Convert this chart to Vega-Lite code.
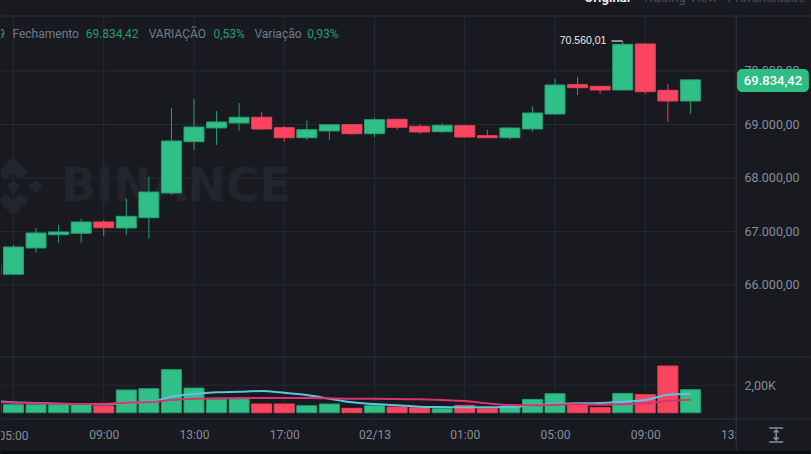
{"$schema":"https://vega.github.io/schema/vega-lite/v6.json","width":811,"height":454,"padding":0,"autosize":{"type":"fit","contains":"padding"},"background":"#181a20","config":{"view":{"stroke":null}},
"datasets":{
"candles":[
{"h":4,"open":66374,"close":66187,"high":66400,"low":66150,"dir":"down","vol":584},
{"h":5,"open":66200,"close":66710,"high":66748,"low":66193,"dir":"up","vol":584},
{"h":6,"open":66692,"close":66972,"high":67066,"low":66611,"dir":"up","vol":584},
{"h":7,"open":66940,"close":66991,"high":67122,"low":66791,"dir":"up","vol":584},
{"h":8,"open":66967,"close":67178,"high":67234,"low":66780,"dir":"up","vol":584},
{"h":9,"open":67178,"close":67071,"high":67215,"low":66916,"dir":"down","vol":487},
{"h":10,"open":67066,"close":67284,"high":67621,"low":66935,"dir":"up","vol":1655},
{"h":11,"open":67258,"close":67738,"high":68024,"low":66866,"dir":"up","vol":1752},
{"h":12,"open":67720,"close":68692,"high":69308,"low":67682,"dir":"up","vol":3139},
{"h":13,"open":68679,"close":68953,"high":69477,"low":68523,"dir":"up","vol":1800},
{"h":14,"open":68935,"close":69047,"high":69252,"low":68617,"dir":"up","vol":973},
{"h":15,"open":69028,"close":69135,"high":69402,"low":68884,"dir":"up","vol":1000},
{"h":16,"open":69135,"close":68916,"high":69228,"low":68907,"dir":"down","vol":633},
{"h":17,"open":68940,"close":68753,"high":68972,"low":68679,"dir":"down","vol":633},
{"h":18,"open":68753,"close":68903,"high":69071,"low":68716,"dir":"up","vol":511},
{"h":19,"open":68879,"close":68996,"high":68998,"low":68716,"dir":"up","vol":633},
{"h":20,"open":68996,"close":68828,"high":69000,"low":68804,"dir":"down","vol":316},
{"h":21,"open":68828,"close":69090,"high":69127,"low":68761,"dir":"up","vol":511},
{"h":22,"open":69097,"close":68948,"high":69110,"low":68903,"dir":"down","vol":414},
{"h":23,"open":68966,"close":68860,"high":69004,"low":68828,"dir":"down","vol":365},
{"h":24,"open":68865,"close":68985,"high":69022,"low":68841,"dir":"up","vol":292},
{"h":25,"open":68978,"close":68766,"high":68985,"low":68760,"dir":"down","vol":535},
{"h":26,"open":68791,"close":68753,"high":68897,"low":68750,"dir":"down","vol":292},
{"h":27,"open":68753,"close":68935,"high":68940,"low":68716,"dir":"up","vol":487},
{"h":28,"open":68916,"close":69215,"high":69340,"low":68865,"dir":"up","vol":973},
{"h":29,"open":69196,"close":69738,"high":69856,"low":69190,"dir":"up","vol":1387},
{"h":30,"open":69744,"close":69688,"high":69888,"low":69551,"dir":"down","vol":657},
{"h":31,"open":69714,"close":69645,"high":69720,"low":69570,"dir":"down","vol":365},
{"h":32,"open":69645,"close":70499,"high":70560,"low":69640,"dir":"up","vol":1411},
{"h":33,"open":70505,"close":69613,"high":70523,"low":69576,"dir":"down","vol":1314},
{"h":34,"open":69639,"close":69439,"high":69757,"low":69047,"dir":"down","vol":3406},
{"h":35,"open":69439,"close":69834,"high":69850,"low":69196,"dir":"up","vol":1679}],
"maPink":[{"h":4,"v":803},{"h":5,"v":730},{"h":6,"v":681},{"h":7,"v":657},{"h":8,"v":633},{"h":9,"v":657},{"h":10,"v":730},{"h":11,"v":779},{"h":12,"v":925},{"h":13,"v":1022},{"h":14,"v":1046},{"h":15,"v":1071},{"h":16,"v":1071},{"h":17,"v":1071},{"h":18,"v":1071},{"h":19,"v":1046},{"h":20,"v":1022},{"h":21,"v":1022},{"h":22,"v":998},{"h":23,"v":973},{"h":24,"v":925},{"h":25,"v":852},{"h":26,"v":681},{"h":27,"v":560},{"h":28,"v":535},{"h":29,"v":584},{"h":30,"v":608},{"h":31,"v":584},{"h":32,"v":608},{"h":33,"v":681},{"h":34,"v":852},{"h":35,"v":949}],
"maCyan":[{"h":4,"v":876},{"h":5,"v":754},{"h":6,"v":706},{"h":7,"v":657},{"h":8,"v":608},{"h":9,"v":608},{"h":10,"v":730},{"h":11,"v":779},{"h":12,"v":1168},{"h":13,"v":1362},{"h":14,"v":1484},{"h":15,"v":1533},{"h":16,"v":1581},{"h":17,"v":1460},{"h":18,"v":1289},{"h":19,"v":1022},{"h":20,"v":754},{"h":21,"v":633},{"h":22,"v":535},{"h":23,"v":438},{"h":24,"v":414},{"h":25,"v":389},{"h":26,"v":389},{"h":27,"v":414},{"h":28,"v":535},{"h":29,"v":657},{"h":30,"v":681},{"h":31,"v":706},{"h":32,"v":803},{"h":33,"v":925},{"h":34,"v":1314},{"h":35,"v":1387}],
"vgrid":[{"h":5,"p":71028,"p2":63496},{"h":9,"p":71028,"p2":63496},{"h":13,"p":71028,"p2":63496},{"h":17,"p":71028,"p2":63496},{"h":21,"p":71028,"p2":63496},{"h":25,"p":71028,"p2":63496},{"h":29,"p":71028,"p2":63496},{"h":33,"p":71028,"p2":63496}],
"hgrid":[{"h":4.447,"h2":37.03,"p":70000},{"h":4.447,"h2":37.03,"p":69000},{"h":4.447,"h2":37.03,"p":68000},{"h":4.447,"h2":37.03,"p":67000},{"h":4.447,"h2":37.03,"p":66000}],
"borders":[{"h":4.447,"h2":40.3,"p":71028},{"h":4.447,"h2":40.3,"p":64655},{"h":4.447,"h2":40.3,"p":63496}],
"axisLine":[{"h":37.03,"p":71028,"p2":62898}],
"cover":[{"h":37.03,"h2":40.3,"p":63480,"p2":62898}],
"foot":[{"h":4.447,"h2":40.3,"p":62898,"p2":62841}],
"tag":[{"h":37.07,"h2":40.25,"p":70037,"p2":69607}],
"tagText":[{"h":38.66,"p":69813,"label":"69.834,42"}],
"hi":[{"h":31.28,"p":70560,"label":"70.560,01"}],
"hiLine":[{"h":31.5,"h2":31.99,"p":70560}],
"logo":[{"h":4.98,"p":67841}],
"mark":[{"h":12.2,"p":67841,"label":"BINANCE"}],
"icon":[{"h":38.8,"p":63197}],
"firstTick":[{"h":5,"p":63178,"label":"05:00"}],
"headGray":[{"h":4.955,"p":70691,"label":"Fechamento"},{"h":10.99,"p":70691,"label":"VARIAÇÃO"},{"h":15.68,"p":70691,"label":"Variação"}],
"headGreen":[{"h":4.32,"p":70691,"label":"9"},{"h":8.2,"p":70691,"label":"69.834,42"},{"h":13.86,"p":70691,"label":"0,53%"},{"h":18.02,"p":70691,"label":"0,93%"}],
"tabOn":[{"h":30.3,"p":71290,"label":"Original"}],
"tabOff":[{"h":32.87,"p":71290,"label":"Trading View"},{"h":36.63,"p":71290,"label":"Profundidade"}],
"volGrid":[{"h":4.447,"h2":37.03,"v":2000}]
},
"encoding":{"x":{"field":"h","type":"quantitative","scale":{"domain":[4.447,40.3],"padding":0},"title":null,"axis":{"orient":"bottom","offset":-35,"values":[9,13,17,21,25,29,33,37],"labelExpr":"datum.value==21?'02/13':(datum.value%24<10?'0':'')+(datum.value%24)+':00'","grid":false,"domain":false,"ticks":false,"labelPadding":10,"labelFont":"Roboto","labelFontSize":12,"labelColor":"#848e9c","labelOverlap":false,"labelFlush":false}}},
"layer":[
{"data":{"name":"hgrid"},"mark":{"type":"rule","color":"#262a31","strokeWidth":1},"encoding":{"x2":{"field":"h2"},"y":{"field":"p","type":"quantitative","scale":{"domain":[62841,71327]},"title":null,"axis":{"orient":"right","offset":-74,"values":[70000,69000,68000,67000,66000],"labelExpr":"format(datum.value/1000,'.0f')+'.000,00'","grid":false,"domain":false,"ticks":false,"labelPadding":8,"labelFont":"Roboto","labelFontSize":12.5,"labelColor":"#848e9c","labelOverlap":false}}}},
{"data":{"name":"logo"},"mark":{"type":"point","filled":true,"clip":true,"color":"#22252b","opacity":1,"shape":"M0,-1 L0.52,-0.48 L0.26,-0.22 L0,-0.48 L-0.26,-0.22 L-0.52,-0.48 Z M0,1 L0.52,0.48 L0.26,0.22 L0,0.48 L-0.26,0.22 L-0.52,0.48 Z M0,-0.24 L0.24,0 L0,0.24 L-0.24,0 Z M-1,0 L-0.76,-0.24 L-0.52,0 L-0.76,0.24 Z M1,0 L0.76,-0.24 L0.52,0 L0.76,0.24 Z","size":3481},"encoding":{"y":{"field":"p","type":"quantitative","scale":{"domain":[62841,71327]},"axis":null}}},
{"data":{"name":"mark"},"mark":{"type":"text","clip":true,"font":"DejaVu Sans","fontWeight":"bold","fontSize":46,"color":"#22252b","align":"center","baseline":"middle"},"encoding":{"y":{"field":"p","type":"quantitative","scale":{"domain":[62841,71327]},"axis":null},"text":{"field":"label"}}},
{"data":{"name":"vgrid"},"mark":{"type":"rule","color":"#262a31","strokeWidth":1},"encoding":{"y":{"field":"p","type":"quantitative","scale":{"domain":[62841,71327]},"axis":null},"y2":{"field":"p2"}}},
{"data":{"name":"borders"},"mark":{"type":"rule","color":"#2f343d","strokeWidth":1},"encoding":{"x2":{"field":"h2"},"y":{"field":"p","type":"quantitative","scale":{"domain":[62841,71327]},"axis":null}}},
{"data":{"name":"cover"},"mark":{"type":"rect","color":"#181a20"},"encoding":{"x2":{"field":"h2"},"y":{"field":"p","type":"quantitative","scale":{"domain":[62841,71327]},"axis":null},"y2":{"field":"p2"}}},
{"data":{"name":"firstTick"},"mark":{"type":"text","clip":true,"font":"Roboto","fontSize":12,"color":"#848e9c","align":"center","baseline":"middle"},"encoding":{"y":{"field":"p","type":"quantitative","scale":{"domain":[62841,71327]},"axis":null},"text":{"field":"label"}}},
{"data":{"name":"axisLine"},"mark":{"type":"rule","color":"#2f343d","strokeWidth":1},"encoding":{"y":{"field":"p","type":"quantitative","scale":{"domain":[62841,71327]},"axis":null},"y2":{"field":"p2"}}},
{"data":{"name":"foot"},"mark":{"type":"rect","color":"#0b0e11"},"encoding":{"x2":{"field":"h2"},"y":{"field":"p","type":"quantitative","scale":{"domain":[62841,71327]},"axis":null},"y2":{"field":"p2"}}},
{"data":{"name":"candles"},"mark":{"type":"rule","clip":true,"strokeWidth":1},"encoding":{"y":{"field":"low","type":"quantitative","scale":{"domain":[62841,71327]},"axis":null},"y2":{"field":"high"},"stroke":{"field":"dir","type":"nominal","scale":{"domain":["up","down"],"range":["#25a074","#f03f58"]},"legend":null}}},
{"data":{"name":"candles"},"mark":{"type":"bar","clip":true,"orient":"vertical","size":20,"strokeWidth":1},"encoding":{"y":{"field":"open","type":"quantitative","scale":{"domain":[62841,71327]},"axis":null},"y2":{"field":"close"},"fill":{"field":"dir","type":"nominal","scale":{"domain":["up","down"],"range":["#2fbf87","#fb4560"]},"legend":null},"stroke":{"field":"dir","type":"nominal","scale":{"domain":["up","down"],"range":["#25a074","#f03f58"]},"legend":null}}},
{"data":{"name":"hiLine"},"mark":{"type":"rule","color":"#b7bdc6","strokeWidth":1.5},"encoding":{"x2":{"field":"h2"},"y":{"field":"p","type":"quantitative","scale":{"domain":[62841,71327]},"axis":null}}},
{"data":{"name":"hi"},"mark":{"type":"text","font":"Liberation Sans","fontSize":10.5,"color":"#eaecef","align":"right","baseline":"middle"},"encoding":{"y":{"field":"p","type":"quantitative","scale":{"domain":[62841,71327]},"axis":null},"text":{"field":"label"}}},
{"data":{"name":"tag"},"mark":{"type":"rect","color":"#2ebd85","cornerRadius":5},"encoding":{"x2":{"field":"h2"},"y":{"field":"p","type":"quantitative","scale":{"domain":[62841,71327]},"axis":null},"y2":{"field":"p2"}}},
{"data":{"name":"tagText"},"mark":{"type":"text","font":"Roboto","fontWeight":500,"fontSize":13,"color":"#ffffff","align":"center","baseline":"middle"},"encoding":{"y":{"field":"p","type":"quantitative","scale":{"domain":[62841,71327]},"axis":null},"text":{"field":"label"}}},
{"data":{"name":"headGray"},"mark":{"type":"text","clip":true,"font":"Roboto","fontSize":12,"color":"#717a8a","align":"left","baseline":"middle"},"encoding":{"y":{"field":"p","type":"quantitative","scale":{"domain":[62841,71327]},"axis":null},"text":{"field":"label"}}},
{"data":{"name":"headGreen"},"mark":{"type":"text","clip":true,"font":"Roboto","fontSize":12,"color":"#1f9e72","align":"left","baseline":"middle"},"encoding":{"y":{"field":"p","type":"quantitative","scale":{"domain":[62841,71327]},"axis":null},"text":{"field":"label"}}},
{"data":{"name":"tabOn"},"mark":{"type":"text","clip":true,"font":"Roboto","fontWeight":"bold","fontSize":13,"color":"#eaecef","align":"left","baseline":"alphabetic"},"encoding":{"y":{"field":"p","type":"quantitative","scale":{"domain":[62841,71327]},"axis":null},"text":{"field":"label"}}},
{"data":{"name":"tabOff"},"mark":{"type":"text","clip":true,"font":"Roboto","fontSize":13,"color":"#474d57","align":"left","baseline":"alphabetic"},"encoding":{"y":{"field":"p","type":"quantitative","scale":{"domain":[62841,71327]},"axis":null},"text":{"field":"label"}}},
{"data":{"name":"icon"},"mark":{"type":"point","filled":false,"opacity":1,"color":"#848e9c","strokeWidth":1.5,"size":196,"shape":"M-1,-1 H1 M-1,1 H1 M0,-0.7 V0.7 M-0.35,-0.35 L0,-0.7 L0.35,-0.35 M-0.35,0.35 L0,0.7 L0.35,0.35"},"encoding":{"y":{"field":"p","type":"quantitative","scale":{"domain":[62841,71327]},"axis":null}}},
{"data":{"name":"volGrid"},"mark":{"type":"rule","color":"#262a31","strokeWidth":1},"encoding":{"x2":{"field":"h2"},"y":{"field":"v","type":"quantitative","scale":{"domain":[-3015,30124]},"title":null,"axis":{"orient":"right","offset":-74,"values":[2000],"labelExpr":"'2,00K'","grid":false,"domain":false,"ticks":false,"labelPadding":8,"labelFont":"Roboto","labelFontSize":12.5,"labelColor":"#848e9c"}}}},
{"data":{"name":"candles"},"mark":{"type":"bar","clip":true,"orient":"vertical","size":20,"strokeWidth":1},"encoding":{"y":{"field":"vol","type":"quantitative","scale":{"domain":[-3015,30124]},"axis":null},"y2":{"datum":0},"fill":{"field":"dir","type":"nominal","scale":{"domain":["up","down"],"range":["#2fbf87","#fb4560"]},"legend":null},"stroke":{"field":"dir","type":"nominal","scale":{"domain":["up","down"],"range":["#25a074","#f03f58"]},"legend":null}}},
{"data":{"name":"maCyan"},"mark":{"type":"line","clip":true,"color":"#5cc4de","strokeWidth":2,"interpolate":"monotone"},"encoding":{"y":{"field":"v","type":"quantitative","scale":{"domain":[-3015,30124]},"axis":null}}},
{"data":{"name":"maPink"},"mark":{"type":"line","clip":true,"color":"#d8336e","strokeWidth":2,"interpolate":"monotone"},"encoding":{"y":{"field":"v","type":"quantitative","scale":{"domain":[-3015,30124]},"axis":null}}}
],
"resolve":{"scale":{"y":"independent"},"axis":{"y":"independent"}}}
